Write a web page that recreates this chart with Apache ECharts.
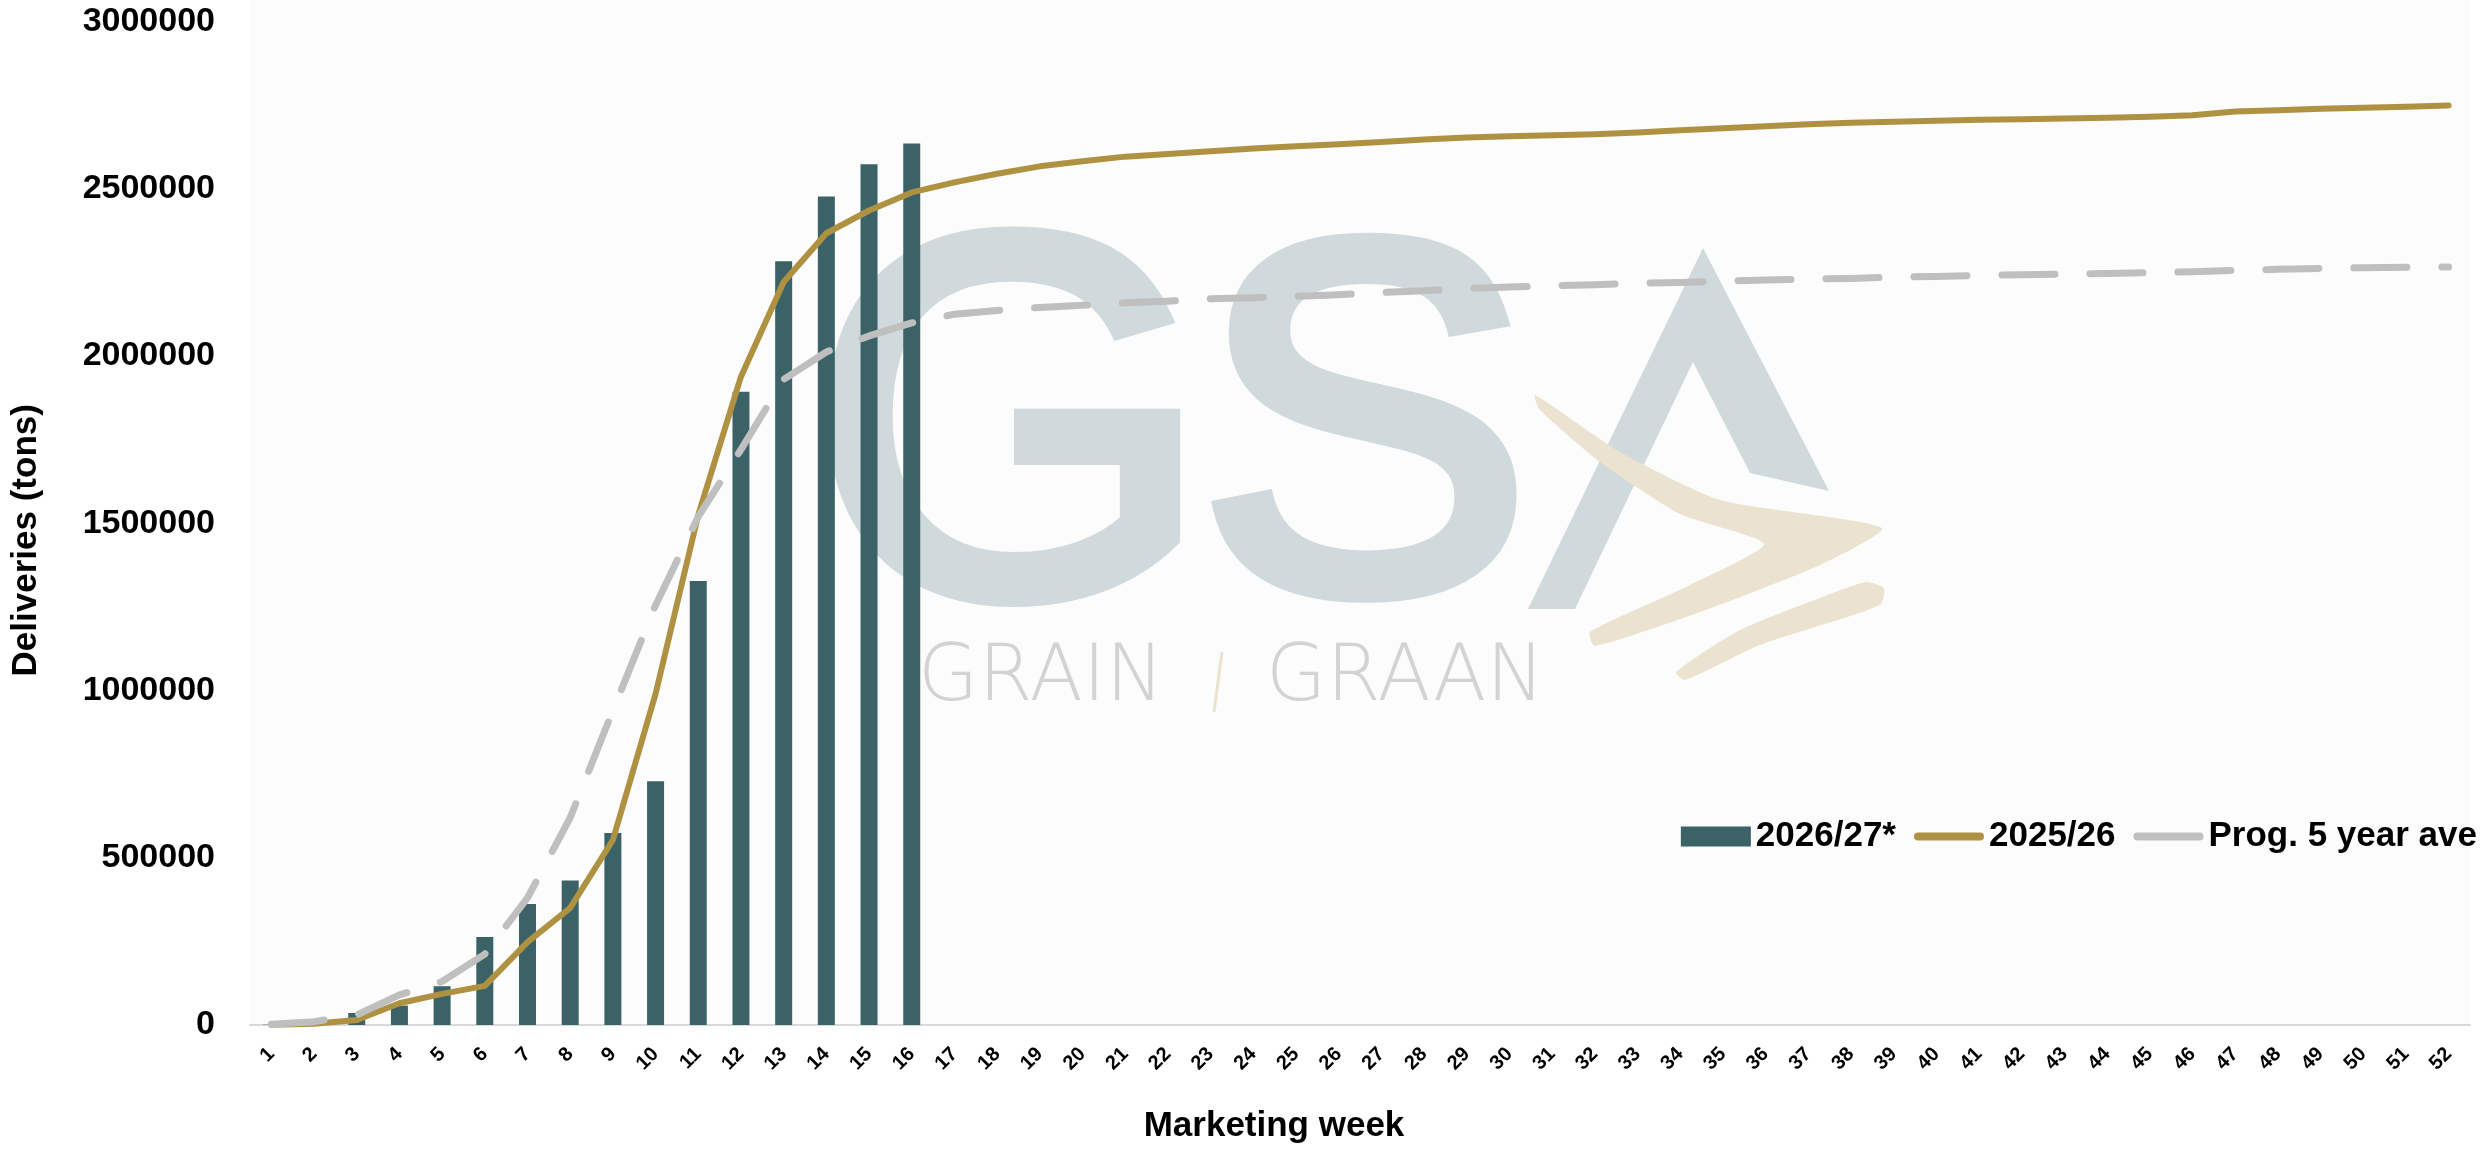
<!DOCTYPE html>
<html>
<head>
<meta charset="utf-8">
<title>Deliveries per marketing week</title>
<script src="https://cdn.jsdelivr.net/npm/echarts@6/dist/echarts.min.js"></script>
<style>
  html, body { margin: 0; padding: 0; background: #fff; }
  #chart { width: 2486px; height: 1149px; }
</style>
</head>
<body>
<div id="chart"></div>
<script>
// marketing weeks 1..52
var weeks = ['1','2','3','4','5','6','7','8','9','10','11','12','13','14','15','16','17','18','19','20',
  '21','22','23','24','25','26','27','28','29','30','31','32','33','34','35','36','37','38','39','40',
  '41','42','43','44','45','46','47','48','49','50','51','52'];

// 2026/27* progressive deliveries (tons), only first 16 weeks reported
var season2026 = [1000, 6000, 36000, 58000, 116000, 263000, 362000, 432000, 574000, 729000,
  1327000, 1893000, 2283000, 2477000, 2573000, 2635000];

// 2025/26 progressive deliveries (tons)
var season2025 = [1000, 4000, 15000, 65000, 93000, 117000, 248000, 350000, 553000, 990000,
  1525000, 1938000, 2221000, 2367000, 2435000, 2489000, 2519000, 2545000, 2567000, 2582000,
  2596000, 2604000, 2612000, 2620000, 2627000, 2633000, 2640000, 2647000, 2653000, 2657000,
  2660000, 2663000, 2668000, 2675000, 2681000, 2687000, 2693000, 2697000, 2700000, 2703000,
  2706000, 2708000, 2710000, 2712000, 2715000, 2720000, 2731000, 2735000, 2739000, 2742000,
  2745000, 2749000];

// progressive 5 year average (tons)
var fiveYearAve = [2000, 10000, 30000, 90000, 130000, 212000, 380000, 620000, 940000, 1255000,
  1520000, 1720000, 1930000, 2012000, 2060000, 2099000, 2125000, 2136000, 2145000, 2152000,
  2159000, 2164000, 2171000, 2174000, 2178000, 2183000, 2190000, 2195000, 2202000, 2206000,
  2210000, 2213000, 2218000, 2220000, 2224000, 2227000, 2230000, 2232000, 2236000, 2238000,
  2241000, 2243000, 2245000, 2247000, 2249000, 2252000, 2256000, 2259000, 2262000, 2264000,
  2265000, 2266000];

var yTicks = [0, 500000, 1000000, 1500000, 2000000, 2500000, 3000000];

var FONT = "'Liberation Sans', Arial, sans-serif";
var LOGO_BLUE = '#D0DADC';
var LOGO_BEIGE = '#EBE3D0';
// rounded bar used as legend swatch for the two lines
var LINE_ICON = 'path://M4,0 H66 A4,4 0 0 1 66,8 H4 A4,4 0 0 1 4,0 Z';

var mychart = echarts.init(document.getElementById('chart'));
var option = {
  animation: false,
  backgroundColor: '#ffffff',
  grid: {
    left: 250,
    right: 16,
    top: 21.5,
    bottom: 123.5
  },
  graphic: [
    // plot area background
    { type: 'rect', z: -10, silent: true,
      shape: { x: 250, y: 0, width: 2220, height: 1025 },
      style: { fill: '#FCFCFC' } },
    // watermark logo
    { type: 'text', z: -5, silent: true, x: 810, y: 452,
      style: { text: 'G', font: 'normal 515px ' + FONT, fill: LOGO_BLUE,
        stroke: LOGO_BLUE, lineWidth: 16, verticalAlign: 'middle' } },
    { type: 'text', z: -5, silent: true, x: 1198, y: 452,
      style: { text: 'S', font: 'normal 500px ' + FONT, fill: LOGO_BLUE,
        stroke: LOGO_BLUE, lineWidth: 16, verticalAlign: 'middle' } },
    { type: 'polygon', z: -5, silent: true,
      shape: { points: [[1703, 248], [1528, 609], [1575, 609], [1693, 362], [1750, 473], [1829, 491]] },
      style: { fill: LOGO_BLUE } },
    { type: 'polygon', z: -4, silent: true,
      shape: { points: [[1535, 395], [1620, 452], [1720, 500], [1882, 528], [1820, 565], [1700, 612],
        [1595, 646], [1590, 632], [1690, 585], [1764, 544], [1680, 514], [1600, 462], [1540, 410]], smooth: 0.2 },
      style: { fill: LOGO_BEIGE } },
    { type: 'polygon', z: -4, silent: true,
      shape: { points: [[1866, 582], [1884, 588], [1880, 605], [1760, 645], [1685, 680], [1676, 672],
        [1740, 630], [1820, 598]], smooth: 0.2 },
      style: { fill: LOGO_BEIGE } },
    { type: 'text', z: -5, silent: true, x: 918, y: 680,
      style: { text: 'GRAIN', font: "200 78px 'DejaVu Sans ExtraLight', 'DejaVu Sans', sans-serif",
        fill: '#D3D3D3', verticalAlign: 'middle' } },
    { type: 'line', z: -5, silent: true,
      shape: { x1: 1222, y1: 652, x2: 1214, y2: 712 },
      style: { stroke: LOGO_BEIGE, lineWidth: 3 } },
    { type: 'text', z: -5, silent: true, x: 1266, y: 680,
      style: { text: 'GRAAN', font: "200 78px 'DejaVu Sans ExtraLight', 'DejaVu Sans', sans-serif",
        fill: '#D3D3D3', verticalAlign: 'middle' } }
  ],
  legend: {
    right: 4,
    top: 814,
    itemWidth: 70,
    itemHeight: 20,
    itemGap: 18,
    textStyle: { fontFamily: FONT, fontSize: 35, fontWeight: 'bold', color: '#000' },
    data: [
      { name: '2026/27*', icon: 'rect' },
      { name: '2025/26', icon: LINE_ICON, itemStyle: { color: '#AF9142' } },
      { name: 'Prog. 5 year ave', icon: LINE_ICON, itemStyle: { color: '#BFBFBF' } }
    ]
  },
  xAxis: {
    type: 'category',
    data: weeks,
    boundaryGap: true,
    name: 'Marketing week',
    nameLocation: 'middle',
    nameGap: 84,
    nameTextStyle: {
      fontFamily: FONT, fontSize: 35, fontWeight: 'bold', color: '#000',
      verticalAlign: 'top', padding: [0, 172, 0, 0]
    },
    axisLine: { lineStyle: { color: '#D9D9D9', width: 2 } },
    axisTick: { show: false },
    axisLabel: {
      interval: 0,
      rotate: 45,
      margin: 26,
      fontFamily: FONT,
      fontSize: 20,
      fontWeight: 'bold',
      color: '#000'
    },
    splitLine: { show: false }
  },
  yAxis: {
    type: 'value',
    min: yTicks[0],
    max: yTicks[yTicks.length - 1],
    interval: yTicks[1] - yTicks[0],
    name: 'Deliveries (tons)',
    nameLocation: 'middle',
    nameGap: 206,
    nameTextStyle: {
      fontFamily: FONT, fontSize: 35, fontWeight: 'bold', color: '#000',
      padding: [0, 34, 0, 0]
    },
    axisLine: { show: false },
    axisTick: { show: false },
    axisLabel: {
      margin: 35,
      fontFamily: FONT,
      fontSize: 34,
      fontWeight: 'bold',
      color: '#000',
      formatter: function (v) { return String(v); }
    },
    splitLine: { show: false }
  },
  series: [
    {
      name: '2026/27*',
      type: 'bar',
      data: season2026,
      barWidth: 17,
      itemStyle: { color: '#3B6367' },
      z: 2
    },
    {
      name: '2025/26',
      type: 'line',
      data: season2025,
      symbol: 'none',
      lineStyle: { color: '#AF9142', width: 6, join: 'round', cap: 'round' },
      itemStyle: { color: '#AF9142' },
      z: 3
    },
    {
      name: 'Prog. 5 year ave',
      type: 'line',
      data: fiveYearAve,
      symbol: 'none',
      lineStyle: { color: '#BFBFBF', width: 7, type: [53, 35], cap: 'round', join: 'round' },
      itemStyle: { color: '#BFBFBF' },
      z: 4
    }
  ]
};
mychart.setOption(option);
window.addEventListener('resize', function () {
  mychart.resize();
});
</script>
</body>
</html>
